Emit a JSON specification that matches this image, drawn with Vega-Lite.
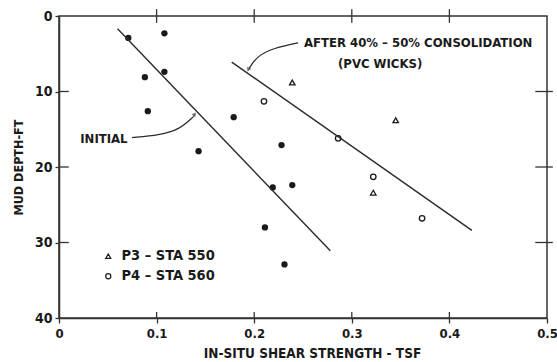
{
  "$schema": "https://vega.github.io/schema/vega-lite/v6.json",
  "width": 488,
  "height": 302,
  "autosize": {"type": "none"},
  "padding": {"left": 59, "top": 16, "right": 10, "bottom": 44},
  "background": "white",
  "config": {
    "font": "DejaVu Sans Condensed",
    "view": {"stroke": "#333", "strokeWidth": 1.5},
    "axis": {"domainColor": "#333", "tickColor": "#333", "labelColor": "#1a1a1a", "titleColor": "#1a1a1a", "labelFont": "DejaVu Sans Condensed", "titleFont": "DejaVu Sans Condensed", "labelFontWeight": "bold", "titleFontWeight": "bold", "grid": false, "domainWidth": 1.5, "tickWidth": 1.3}
  },
  "datasets": {
    "pts": [
      {"series": "Initial", "shear": 0.071, "depth": 2.9},
      {"series": "Initial", "shear": 0.108, "depth": 2.3},
      {"series": "Initial", "shear": 0.108, "depth": 7.4},
      {"series": "Initial", "shear": 0.088, "depth": 8.1},
      {"series": "Initial", "shear": 0.091, "depth": 12.6},
      {"series": "Initial", "shear": 0.143, "depth": 17.9},
      {"series": "Initial", "shear": 0.179, "depth": 13.4},
      {"series": "Initial", "shear": 0.228, "depth": 17.1},
      {"series": "Initial", "shear": 0.219, "depth": 22.7},
      {"series": "Initial", "shear": 0.239, "depth": 22.4},
      {"series": "Initial", "shear": 0.211, "depth": 28.0},
      {"series": "Initial", "shear": 0.231, "depth": 32.9},
      {"series": "P3 – STA 550", "shear": 0.239, "depth": 8.8},
      {"series": "P3 – STA 550", "shear": 0.345, "depth": 13.8},
      {"series": "P3 – STA 550", "shear": 0.322, "depth": 23.4},
      {"series": "P4 – STA 560", "shear": 0.210, "depth": 11.3},
      {"series": "P4 – STA 560", "shear": 0.286, "depth": 16.2},
      {"series": "P4 – STA 560", "shear": 0.322, "depth": 21.3},
      {"series": "P4 – STA 560", "shear": 0.372, "depth": 26.8}
    ],
    "fits": [
      {"line": "initial", "shear": 0.060, "depth": 1.7},
      {"line": "initial", "shear": 0.278, "depth": 31.1},
      {"line": "after", "shear": 0.177, "depth": 6.1},
      {"line": "after", "shear": 0.423, "depth": 28.4}
    ],
    "leaders": [
      {"id": "initial", "shear": 0.0748, "depth": 16.1},
      {"id": "initial", "shear": 0.103, "depth": 15.8},
      {"id": "initial", "shear": 0.124, "depth": 15.0},
      {"id": "initial", "shear": 0.138, "depth": 13.3},
      {"id": "after", "shear": 0.245, "depth": 3.55},
      {"id": "after", "shear": 0.221, "depth": 4.2},
      {"id": "after", "shear": 0.203, "depth": 5.3},
      {"id": "after", "shear": 0.195, "depth": 6.9}
    ],
    "arrows": [
      {"id": "initial", "shear": 0.139, "depth": 13.0},
      {"id": "after", "shear": 0.194, "depth": 7.1}
    ],
    "labels": [
      {"text": "INITIAL", "shear": 0.046, "depth": 16.3},
      {"text": "AFTER 40% – 50% CONSOLIDATION", "shear": 0.368, "depth": 3.6},
      {"text": "(PVC WICKS)", "shear": 0.329, "depth": 6.3}
    ],
    "xticks": [{"v": 0.1}, {"v": 0.2}, {"v": 0.3}, {"v": 0.4}],
    "yticks": [{"v": 10}, {"v": 20}, {"v": 30}]
  },
  "layer": [
    {
      "data": {"name": "pts"},
      "transform": [{"filter": "datum.series == 'Initial'"}],
      "mark": {"type": "point", "filled": true, "color": "#1a1a1a", "opacity": 1, "size": 40},
      "encoding": {
        "x": {"field": "shear", "type": "quantitative", "scale": {"domain": [0, 0.5], "nice": false, "zero": false},
          "axis": {"orient": "bottom", "values": [0, 0.1, 0.2, 0.3, 0.4, 0.5], "format": ".1~f", "labelExpr": "datum.value == 0 ? '0' : datum.label", "tickSize": 5, "labelFontSize": 13, "labelPadding": 4, "labelFlush": false, "labelBound": false, "title": "IN-SITU SHEAR STRENGTH - TSF", "titleFontSize": 13.5, "titlePadding": 6, "titleX": 253}},
        "y": {"field": "depth", "type": "quantitative", "scale": {"domain": [0, 40], "reverse": true, "nice": false, "zero": false},
          "axis": {"orient": "left", "values": [0, 10, 20, 30, 40], "tickSize": 4, "labelFontSize": 14, "labelPadding": 3, "title": "MUD DEPTH-FT", "titleFontSize": 12.5, "titlePadding": 9}}
      }
    },
    {
      "data": {"name": "pts"},
      "transform": [{"filter": "datum.series != 'Initial'"}],
      "mark": {"type": "point", "filled": false, "strokeWidth": 1.3, "color": "#1a1a1a", "opacity": 1, "size": 30},
      "encoding": {
        "x": {"field": "shear", "type": "quantitative"},
        "y": {"field": "depth", "type": "quantitative"},
        "shape": {"field": "series", "type": "nominal", "scale": {"domain": ["P3 – STA 550", "P4 – STA 560"], "range": ["triangle-up", "circle"]},
          "legend": {"title": null, "orient": "none", "legendX": 42, "legendY": 233, "labelFontSize": 14.5, "labelFontWeight": "bold", "labelColor": "#1a1a1a", "labelFont": "DejaVu Sans Condensed", "symbolSize": 26, "symbolStrokeColor": "#1a1a1a", "symbolStrokeWidth": 1.2, "rowPadding": 5, "labelOffset": 6, "padding": 0}}
      }
    },
    {
      "data": {"name": "fits"},
      "mark": {"type": "line", "color": "#2a2a2a", "strokeWidth": 1.4},
      "encoding": {
        "x": {"field": "shear", "type": "quantitative"},
        "y": {"field": "depth", "type": "quantitative"},
        "detail": {"field": "line"}
      }
    },
    {
      "data": {"name": "xticks"},
      "mark": {"type": "rule", "color": "#333", "strokeWidth": 1.3},
      "encoding": {
        "x": {"field": "v", "type": "quantitative"},
        "y": {"datum": -0.9, "type": "quantitative"},
        "y2": {"datum": 0.9}
      }
    },
    {
      "data": {"name": "xticks"},
      "mark": {"type": "rule", "color": "#333", "strokeWidth": 1.3},
      "encoding": {
        "x": {"field": "v", "type": "quantitative"},
        "y": {"datum": 39.2, "type": "quantitative"},
        "y2": {"datum": 40}
      }
    },
    {
      "data": {"name": "yticks"},
      "mark": {"type": "rule", "color": "#333", "strokeWidth": 1.3},
      "encoding": {
        "y": {"field": "v", "type": "quantitative"},
        "x": {"datum": 0.488, "type": "quantitative"},
        "x2": {"datum": 0.506}
      }
    },
    {
      "data": {"name": "yticks"},
      "mark": {"type": "rule", "color": "#333", "strokeWidth": 1.3},
      "encoding": {
        "y": {"field": "v", "type": "quantitative"},
        "x": {"datum": 0, "type": "quantitative"},
        "x2": {"datum": 0.01}
      }
    },
    {
      "data": {"name": "leaders"},
      "mark": {"type": "line", "color": "#2a2a2a", "strokeWidth": 1.2, "interpolate": "basis"},
      "encoding": {
        "x": {"field": "shear", "type": "quantitative"},
        "y": {"field": "depth", "type": "quantitative"},
        "detail": {"field": "id"}
      }
    },
    {
      "data": {"name": "arrows"},
      "transform": [{"filter": "datum.id == 'initial'"}],
      "mark": {"type": "point", "shape": "triangle-up", "filled": true, "color": "#2a2a2a", "size": 22, "angle": 35},
      "encoding": {
        "x": {"field": "shear", "type": "quantitative"},
        "y": {"field": "depth", "type": "quantitative"}
      }
    },
    {
      "data": {"name": "arrows"},
      "transform": [{"filter": "datum.id == 'after'"}],
      "mark": {"type": "point", "shape": "triangle-up", "filled": true, "color": "#2a2a2a", "size": 22, "angle": 205},
      "encoding": {
        "x": {"field": "shear", "type": "quantitative"},
        "y": {"field": "depth", "type": "quantitative"}
      }
    },
    {
      "data": {"name": "labels"},
      "mark": {"type": "text", "font": "DejaVu Sans Condensed", "fontWeight": "bold", "fontSize": 13, "color": "#1a1a1a", "align": "center", "baseline": "middle"},
      "encoding": {
        "x": {"field": "shear", "type": "quantitative"},
        "y": {"field": "depth", "type": "quantitative"},
        "text": {"field": "text"}
      }
    }
  ]
}
